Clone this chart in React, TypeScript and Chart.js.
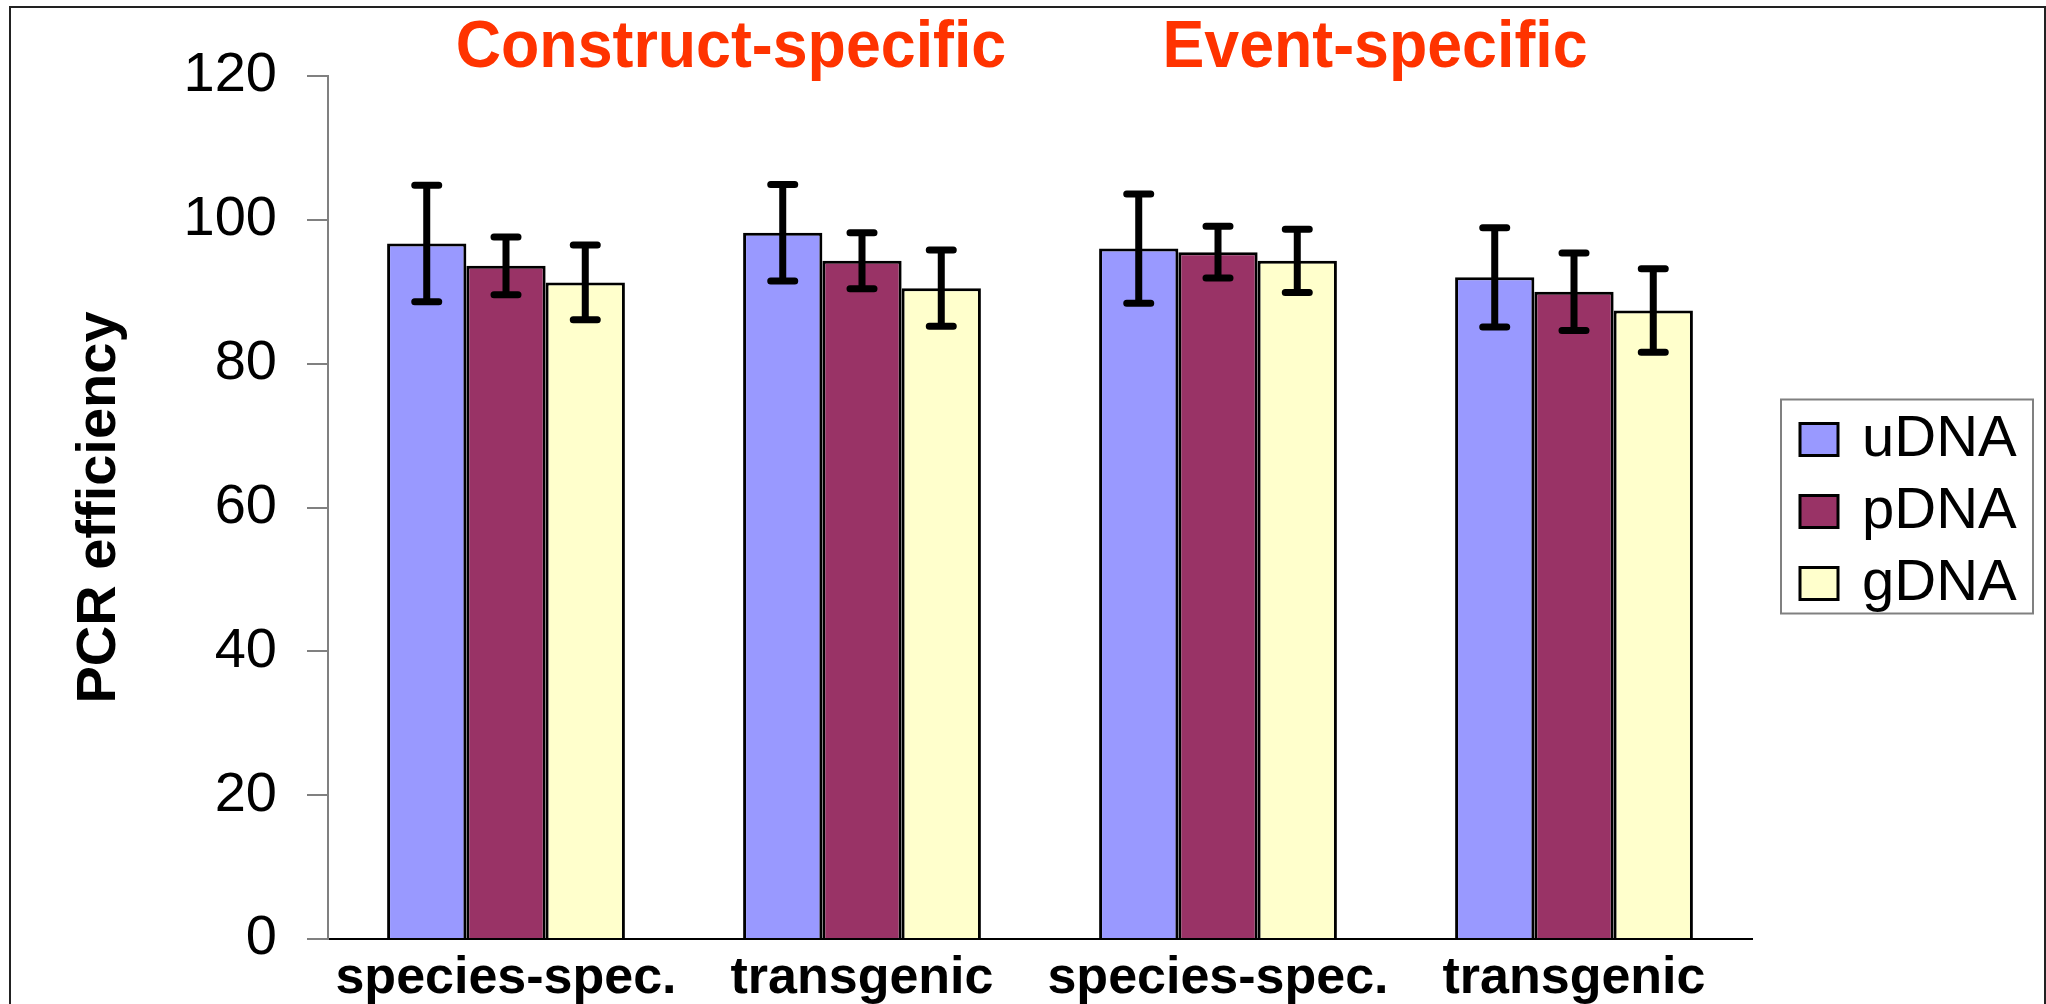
import { useEffect, useRef } from 'react';
import { Chart, registerables } from 'chart.js';
import type { Plugin } from 'chart.js';

Chart.register(...registerables);

// values (PCR efficiency, %)
const categories = ['species-spec.', 'transgenic', 'species-spec.', 'transgenic'];
const seriesNames = ['uDNA', 'pDNA', 'gDNA'];
const seriesColors = ['#9999ff', '#993366', '#ffffcc'];
const uDNA = [96.7, 98.2, 96.0, 92.0];
const pDNA = [93.6, 94.3, 95.5, 90.0];
const gDNA = [91.3, 90.5, 94.3, 87.4];
const uDNAErr = [8.1, 6.7, 7.6, 6.9];
const pDNAErr = [4.0, 3.9, 3.6, 5.4];
const gDNAErr = [5.2, 5.3, 4.4, 5.8];
const yTicks = [0, 20, 40, 60, 80, 100, 120];
const groupTitles = [
  { text: 'Construct-specific', first: 0, last: 1 },
  { text: 'Event-specific', first: 2, last: 3 },
];

const FONT = '"Liberation Sans", Arial, sans-serif';
const TITLE_NUDGE = [47, -21];
const TITLE_SQUEEZE = 0.95; // titles are set in a slightly condensed bold face

const errorBars: Plugin<'bar'> = {
  id: 'errorBars',
  afterDatasetsDraw(chart) {
    const { ctx } = chart;
    const y = chart.scales.y;
    chart.data.datasets.forEach((ds, di) => {
      const errs = (ds as any).errors as number[];
      const meta = chart.getDatasetMeta(di);
      meta.data.forEach((bar, i) => {
        const v = ds.data[i] as number;
        const top = y.getPixelForValue(v + errs[i]);
        const bot = y.getPixelForValue(v - errs[i]);
        const x = bar.x;
        ctx.save();
        ctx.strokeStyle = '#000';
        ctx.lineWidth = 7;
        ctx.lineCap = 'round';
        ctx.beginPath();
        ctx.moveTo(x, top); ctx.lineTo(x, bot);
        ctx.moveTo(x - 12, top); ctx.lineTo(x + 12, top);
        ctx.moveTo(x - 12, bot); ctx.lineTo(x + 12, bot);
        ctx.stroke();
        ctx.restore();
      });
    });
  },
};

// framed legend to the right of the plot, plus the outer frame and group titles
const decorations: Plugin<'bar'> = {
  id: 'decorations',
  afterDraw(chart) {
    const { ctx, chartArea } = chart;
    const x = chart.scales.x;
    ctx.save();

    ctx.strokeStyle = '#222';
    ctx.lineWidth = 2;
    ctx.strokeRect(10, 7, 2035, 1100);

    ctx.font = `bold 66px ${FONT}`;
    ctx.fillStyle = '#ff3300';
    ctx.textAlign = 'center';
    ctx.textBaseline = 'alphabetic';
    groupTitles.forEach((t, i) => {
      const cx = (x.getPixelForValue(t.first) + x.getPixelForValue(t.last)) / 2 + TITLE_NUDGE[i];
      ctx.save();
      ctx.translate(cx, 67);
      ctx.scale(TITLE_SQUEEZE, 1);
      ctx.fillText(t.text, 0, 0);
      ctx.restore();
    });

    const boxL = chartArea.right + 29;
    const boxW = 252;
    const rowH = 72;
    const boxH = 214;
    const boxT = (chartArea.top + chartArea.bottom) / 2 - 1 - boxH / 2;
    ctx.strokeStyle = '#808080';
    ctx.lineWidth = 2;
    ctx.strokeRect(boxL, boxT, boxW, boxH);
    ctx.font = `58px ${FONT}`;
    ctx.textAlign = 'left';
    ctx.textBaseline = 'middle';
    chart.data.datasets.forEach((ds, i) => {
      const cy = boxT + 40 + i * rowH;
      ctx.fillStyle = ds.backgroundColor as string;
      ctx.fillRect(boxL + 19, cy - 16, 38, 32);
      ctx.strokeStyle = '#000';
      ctx.lineWidth = 3;
      ctx.strokeRect(boxL + 19, cy - 16, 38, 32);
      ctx.fillStyle = '#000';
      ctx.fillText(ds.label ?? '', boxL + 81, cy);
    });
    ctx.restore();
  },
};

export default function App(): JSX.Element {
  const canvasRef = useRef<HTMLCanvasElement>(null);
  const chartRef = useRef<Chart | null>(null);

  useEffect(() => {
    if (!canvasRef.current) return;
    if (chartRef.current) chartRef.current.destroy();

    const values = [uDNA, pDNA, gDNA];
    const errors = [uDNAErr, pDNAErr, gDNAErr];

    chartRef.current = new Chart(canvasRef.current, {
      type: 'bar',
      data: {
        labels: categories,
        datasets: seriesNames.map((name, i) => ({
          label: name,
          data: values[i],
          errors: errors[i],
          backgroundColor: seriesColors[i],
          borderColor: '#000',
          borderWidth: 3,
          categoryPercentage: 0.668,
          barPercentage: 1,
        })) as any,
      },
      options: {
        responsive: true,
        maintainAspectRatio: false,
        animation: false,
        layout: { padding: { top: 76, right: 294, bottom: 0, left: 0 } },
        plugins: {
          legend: { display: false },
          tooltip: { enabled: false },
        },
        scales: {
          x: {
            grid: { display: false },
            border: { display: true, color: '#000', width: 2 },
            ticks: {
              color: '#000',
              font: { family: FONT, size: 52, weight: 'bold' },
              padding: 0,
              maxRotation: 0,
              autoSkip: false,
            },
            afterFit: s => { s.height = 65; },
          },
          y: {
            min: 0,
            max: 120,
            afterBuildTicks: s => { s.ticks = yTicks.map(value => ({ value })); },
            grid: { drawOnChartArea: false, drawTicks: true, tickLength: 21, color: '#808080', lineWidth: 2 },
            border: { display: true, color: '#808080', width: 2 },
            ticks: { color: '#000', font: { family: FONT, size: 56 }, padding: 30 },
            title: {
              display: true,
              text: 'PCR efficiency',
              color: '#000',
              font: { family: FONT, size: 56, weight: 'bold' },
              padding: { top: 66, bottom: 0 },
            },
            afterFit: s => { s.width = 328; },
          },
        },
      },
      plugins: [errorBars, decorations],
    });

    return () => { chartRef.current?.destroy(); };
  }, []);

  return (
    <div style={{ position: 'absolute', left: 0, top: 0, width: '2046px', height: '1004px' }}>
      <canvas ref={canvasRef} role="img" aria-label="PCR efficiency of uDNA, pDNA and gDNA" />
    </div>
  );
}
